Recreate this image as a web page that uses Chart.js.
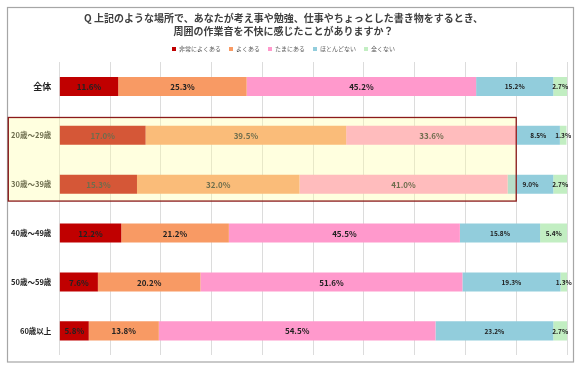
<!DOCTYPE html>
<html lang="ja">
<head>
<meta charset="utf-8">
<script src="https://cdn.jsdelivr.net/npm/chart.js@4.4.1/dist/chart.umd.min.js"></script>
<style>
  html, body { margin: 0; padding: 0; background: #fff; }
  #wrap { width: 582px; height: 370px; }
</style>
</head>
<body>
<div id="wrap"><canvas id="grafico" width="582" height="370"></canvas></div>
<script>
// 設問タイトル
const TITULO = [
  'Q 上記のような場所で、あなたが考え事や勉強、仕事やちょっとした書き物をするとき、',
  '周囲の作業音を不快に感じたことがありますか？',
];

// 回答者区分
const CATEGORIAS = ['全体', '20歳～29歳', '30歳～39歳', '40歳～49歳', '50歳～59歳', '60歳以上'];

// 回答の選択肢
const RESPUESTAS = ['非常によくある', 'よくある', 'たまにある', 'ほとんどない', '全くない'];

// 各選択肢の割合（%）、CATEGORIAS の順
const MUY_A_MENUDO = [11.6, 17.0, 15.3, 12.2, 7.6, 5.8];
const A_MENUDO     = [25.3, 39.5, 32.0, 21.2, 20.2, 13.8];
const A_VECES      = [45.2, 33.6, 41.0, 45.5, 51.6, 54.5];
const CASI_NUNCA   = [15.2, 8.5, 9.0, 15.8, 19.3, 23.2];
const NUNCA        = [2.7, 1.3, 2.7, 5.4, 1.3, 2.7];

const SERIES = [MUY_A_MENUDO, A_MENUDO, A_VECES, CASI_NUNCA, NUNCA];
const COLORES = ['#C00000', '#F89A64', '#FF99CC', '#92CDDC', '#C2EEC2'];

// 強調枠（20代・30代）
const FILAS_RESALTADAS = [1, 2];
const LIMITE_RESALTE = 90;

const FUENTE = '"Noto Sans CJK JP", "Noto Sans", sans-serif';
Chart.defaults.font.family = FUENTE;

const pluginFondo = {
  id: 'pluginFondo',
  beforeDraw(chart) {
    const { ctx, width, height } = chart;
    ctx.save();
    ctx.fillStyle = '#fff';
    ctx.fillRect(0, 0, width, height);
    ctx.strokeStyle = '#A6A6A6';
    ctx.lineWidth = 1.2;
    ctx.strokeRect(7.5, 7.5, 566, 354.5);
    ctx.restore();
  },
};

const pluginEtiquetas = {
  id: 'pluginEtiquetas',
  afterDatasetsDraw(chart) {
    const { ctx } = chart;
    ctx.save();
    ctx.textAlign = 'center';
    ctx.textBaseline = 'middle';
    ctx.fillStyle = '#222';
    chart.data.datasets.forEach((ds, i) => {
      const meta = chart.getDatasetMeta(i);
      ctx.font = (i < 3 ? 'bold 8px ' : 'bold 6.5px ') + FUENTE;
      meta.data.forEach((bar, j) => {
        const v = ds.data[j];
        const cx = (bar.x + bar.base) / 2;
        ctx.fillText(v.toFixed(1) + '%', cx, bar.y + 0.5);
      });
    });
    ctx.restore();
  },
};

const pluginResalte = {
  id: 'pluginResalte',
  afterDraw(chart) {
    const { ctx, scales } = chart;
    const y = scales.y;
    const paso = y.getPixelForValue(1) - y.getPixelForValue(0);
    const top = y.getPixelForValue(FILAS_RESALTADAS[0]) - paso * 0.365;
    const bottom = y.getPixelForValue(FILAS_RESALTADAS[1]) + paso * 0.345;
    const left = 8.3;
    const right = scales.x.getPixelForValue(LIMITE_RESALTE);
    ctx.save();
    ctx.fillStyle = 'rgba(255,255,160,0.34)';
    ctx.fillRect(left, top, right - left, bottom - top);
    ctx.strokeStyle = '#8B1A1A';
    ctx.lineWidth = 1.3;
    ctx.strokeRect(left, top, right - left, bottom - top);
    ctx.restore();
  },
};

new Chart(document.getElementById('grafico'), {
  type: 'bar',
  data: {
    labels: CATEGORIAS,
    datasets: SERIES.map((serie, i) => ({
      label: RESPUESTAS[i],
      data: serie,
      backgroundColor: COLORES[i],
      borderWidth: 0,
      barPercentage: 0.39,
      categoryPercentage: 1,
    })),
  },
  options: {
    indexAxis: 'y',
    responsive: false,
    animation: false,
    layout: { padding: { top: 6, right: 15, bottom: 14.7, left: 0 } },
    scales: {
      x: {
        stacked: true,
        min: 0,
        max: 100,
        ticks: { display: false, stepSize: 10 },
        grid: { color: '#DCDCDC', lineWidth: 1, drawTicks: false },
        border: { display: false },
        afterFit(scale) { scale.height = 0; },
      },
      y: {
        stacked: true,
        grid: { display: false, drawTicks: false },
        border: { display: false },
        ticks: {
          padding: 8,
          color: '#222',
          font: (c) => ({ size: c.index === 0 ? 9 : 7.5, weight: 'bold' }),
        },
        afterFit(scale) { scale.width = 59.3; },
      },
    },
    plugins: {
      title: {
        display: true,
        text: TITULO,
        color: '#404040',
        font: { size: 10, weight: 'bold', lineHeight: 1.3 },
        padding: { top: 6, bottom: 0 },
      },
      legend: {
        display: true,
        position: 'top',
        labels: {
          boxWidth: 4,
          boxHeight: 4,
          padding: 8,
          color: '#595959',
          font: { size: 6 },
        },
      },
      tooltip: { enabled: false },
    },
  },
  plugins: [pluginFondo, pluginEtiquetas, pluginResalte],
});
</script>
</body>
</html>
